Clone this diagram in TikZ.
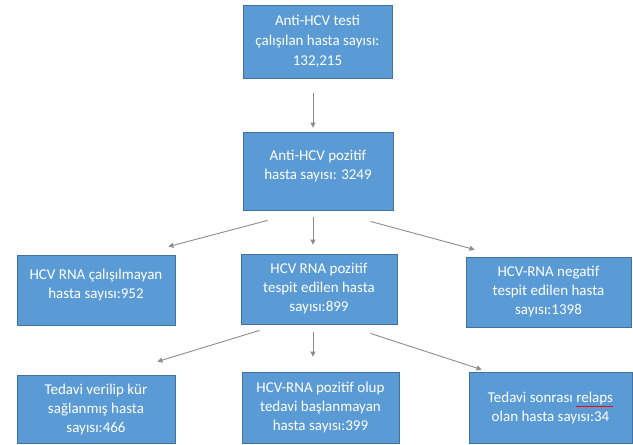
\documentclass[tikz,border=0pt]{standalone}
\usepackage{fontspec}
\setmainfont{Carlito}
\usepackage{tikz}
\usetikzlibrary{arrows.meta}
\definecolor{boxblue}{HTML}{5B9BD5}
\definecolor{boxedge}{HTML}{41719C}
\definecolor{arrgray}{HTML}{8C8C8C}

\begin{document}
\begin{tikzpicture}[x=1pt,y=-1pt]
    \tikzstyle{box}=[rectangle,fill=boxblue,draw=boxedge,line width=0.8pt,text=white,align=center,
                     inner sep=2pt,font=\fontsize{15}{19}\selectfont]
    \tikzstyle{arr}=[draw=arrgray,line width=0.9pt,-{Triangle[width=5pt,length=5pt]}]
      \useasboundingbox[fill=white] (0,0) rectangle (633,445);
      \node[box,minimum width=149pt,minimum height=73pt,font=\fontsize{15}{20}\selectfont] (N_1) at (317.5,41.5)
            {Anti-HCV testi\\ çalışılan hasta sayısı:\\ 132,215};
      \node[box,minimum width=150pt,minimum height=78pt] (N_2) at (318,171)
            {Anti-HCV pozitif\\ hasta sayısı: 3249\\[-6pt]\mbox{}};
      \node[box,minimum width=158pt,minimum height=70pt] (N_3) at (96,290)
            {HCV RNA çalışılmayan\\ hasta sayısı:952\\[-6pt]\mbox{}};
      \node[box,minimum width=156pt,minimum height=70pt] (N_4) at (319,289)
            {HCV RNA pozitif\\ tespit edilen hasta\\ sayısı:899};
      \node[box,minimum width=165pt,minimum height=70pt] (N_5) at (548.5,292)
            {HCV-RNA negatif\\ tespit edilen hasta\\ sayısı:1398};
      \node[box,minimum width=158pt,minimum height=68pt] (N_6) at (96,409)
            {Tedavi verilip kür\\ sağlanmış hasta\\ sayısı:466};
      \node[box,minimum width=157pt,minimum height=71pt] (N_7) at (320.5,407.5)
            {HCV-RNA pozitif olup\\ tedavi başlanmayan\\ hasta sayısı:399};
      \node[box,minimum width=163pt,minimum height=71pt] (N_8) at (550.5,407.5)
            {Tedavi sonrası {\color{red}\underline{\textcolor{white}{relaps}}}\\ olan hasta sayısı:34};
      \draw[arr] ([xshift=-4.5pt,yshift=-15pt]N_1.south) -- ([xshift=-5pt,yshift=4pt]N_2.north);
      \draw[arr] ([xshift=25pt,yshift=-10pt]N_2.south west) -- ([xshift=-7pt,yshift=8pt]N_3.north east);
      \draw[arr] ([xshift=-5pt,yshift=-7pt]N_2.south) -- ([xshift=-6pt,yshift=9pt]N_4.north);
      \draw[arr] ([xshift=-23pt,yshift=-11pt]N_2.south east) -- ([xshift=9pt,yshift=7pt]N_5.north west);
      \draw[arr] ([xshift=19pt,yshift=-6pt]N_4.south west) -- ([xshift=-18pt,yshift=13pt]N_6.north east);
      \draw[arr] ([xshift=-6pt,yshift=-8pt]N_4.south) -- ([xshift=-7.5pt,yshift=15pt]N_7.north);
      \draw[arr] ([xshift=-27pt,yshift=-9pt]N_4.south east) -- ([xshift=13pt,yshift=2pt]N_8.north west);
    \end{tikzpicture}
\end{document}
